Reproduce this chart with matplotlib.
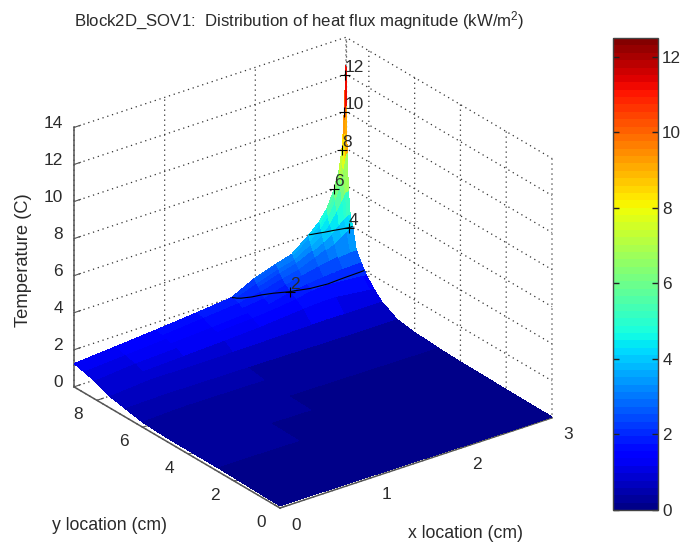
import numpy as np
import matplotlib
matplotlib.use("Agg")
import matplotlib.pyplot as plt
from matplotlib.cm import ScalarMappable
from matplotlib.colors import ListedColormap, Normalize
from mpl_toolkits.mplot3d import proj3d

plt.rcParams['font.family'] = ['Liberation Sans', 'DejaVu Sans']
plt.rcParams['mathtext.default'] = 'regular'
plt.rcParams['mathtext.fontset'] = 'custom'
plt.rcParams['mathtext.rm'] = 'Liberation Sans'

x_cm = [0, .45, .9, 1.35, 1.74, 1.98, 2.22, 2.4, 2.58, 2.7, 2.79, 2.868, 2.925, 2.955, 2.97, 2.982, 2.991, 3]
y_cm = [0, .9, 1.8, 2.7, 3.96, 4.95, 6, 6.75, 7.42, 7.78, 8.1, 8.33, 8.55, 8.71, 8.82, 8.89, 8.95, 8.98, 9]
flux = [
    [.12, .11, .10, .09, .08, .07, .06, .06, .05, .05, .05, .05, .05, .05, .05, .05, .05, .05],
    [.14, .13, .12, .11, .10, .09, .08, .07, .07, .06, .06, .06, .06, .06, .06, .06, .06, .06],
    [.17, .16, .14, .13, .11, .10, .09, .08, .08, .07, .07, .07, .07, .07, .07, .07, .07, .07],
    [.20, .19, .17, .15, .13, .12, .11, .10, .09, .09, .09, .09, .09, .09, .09, .09, .09, .09],
    [.20, .23, .21, .18, .16, .15, .14, .13, .12, .12, .11, .11, .11, .11, .11, .11, .11, .11],
    [.20, .27, .25, .23, .21, .20, .19, .18, .17, .17, .16, .16, .16, .16, .16, .16, .16, .16],
    [.27, .36, .34, .32, .30, .28, .27, .26, .25, .25, .25, .25, .25, .25, .25, .25, .25, .25],
    [.45, .50, .48, .46, .44, .42, .41, .40, .39, .39, .39, .39, .39, .39, .39, .39, .39, .39],
    [.62, .80, .78, .80, .82, .84, .86, .88, .86, .85, .85, .85, .85, .85, .85, .85, .85, .85],
    [.80, .95, 1.05, 1.15, 1.25, 1.35, 1.45, 1.52, 1.52, 1.45, 1.40, 1.35, 1.32, 1.30, 1.30, 1.30, 1.30, 1.30],
    [.95, 1.15, 1.25, 1.38, 1.50, 1.60, 1.75, 1.93, 1.97, 1.92, 1.88, 1.85, 1.83, 1.82, 1.81, 1.80, 1.80, 1.80],
    [1.05, 1.20, 1.33, 1.48, 1.60, 1.70, 1.97, 2.10, 2.20, 2.25, 2.28, 2.30, 2.30, 2.30, 2.30, 2.30, 2.30, 2.30],
    [1.12, 1.27, 1.42, 1.58, 1.72, 1.85, 2.20, 2.40, 2.60, 2.70, 2.78, 2.82, 2.85, 2.85, 2.85, 2.85, 2.85, 2.85],
    [1.18, 1.33, 1.50, 1.70, 1.87, 2.08, 2.40, 2.60, 2.95, 3.20, 3.40, 3.65, 3.85, 3.95, 4.00, 4.00, 4.00, 4.00],
    [1.21, 1.36, 1.54, 1.74, 1.92, 2.25, 2.62, 2.85, 3.25, 3.55, 3.85, 4.20, 4.45, 4.55, 4.60, 4.60, 4.60, 4.60],
    [1.23, 1.38, 1.56, 1.76, 1.95, 2.38, 2.78, 3.00, 3.50, 3.90, 4.35, 4.95, 5.40, 5.70, 5.80, 5.80, 5.80, 5.80],
    [1.24, 1.40, 1.58, 1.78, 1.97, 2.48, 2.88, 3.12, 3.70, 4.20, 4.75, 5.50, 6.30, 7.00, 7.40, 7.70, 7.80, 7.80],
    [1.25, 1.41, 1.59, 1.79, 1.99, 2.55, 2.95, 3.20, 3.85, 4.40, 5.00, 5.85, 6.80, 7.70, 8.60, 9.60, 10.2, 10.5],
    [1.25, 1.42, 1.60, 1.80, 2.00, 2.60, 3.00, 3.25, 3.95, 4.50, 5.10, 6.00, 7.00, 8.00, 9.00, 10.2, 11.4, 12.5],
]
contour_levels = [2, 4]
label_x = [2.22, 2.96, 2.87, 2.955, 2.98, 2.99]
label_y = [8.36, 8.71, 9, 9, 9, 9]
label_z = [2, 4, 6, 8, 10, 12]
label_text = ['2', '4', '6', '8', '10', '12']
x_ticks = [0, 1, 2, 3]
y_ticks = [0, 2, 4, 6, 8]
z_ticks = [0, 2, 4, 6, 8, 10, 12, 14]
cbar_ticks = [0, 2, 4, 6, 8, 10, 12]

TXT = '#2a2a2a'
FS = 12.4
W, H = 683, 543
fig = plt.figure(figsize=(W / 100, H / 100), dpi=100)
ax = fig.add_axes([0.05, 0.05, 0.8, 0.8], projection='3d', computed_zorder=False)
ax.set_proj_type('ortho')
ax.view_init(elev=26.2, azim=-126.9)
ax.set_box_aspect((340, 343, 289))

X, Y = np.meshgrid(np.array(x_cm), np.array(y_cm))
Z = np.array(flux)
norm = Normalize(0, 12.5)
cmap = ListedColormap(plt.get_cmap('jet')((np.arange(64) + 0.6) / 64))
ax.plot_surface(X, Y, Z, cmap=cmap, norm=norm, rstride=1, cstride=1, linewidth=0,
                antialiased=False, shade=False, zorder=2)
ax.contour(X, Y, Z, levels=contour_levels, colors='k', linewidths=0.8, zorder=3)
ax.plot(label_x, label_y, label_z, ls='none', marker='+', ms=7, mew=0.8, color='k', zorder=4)

# dotted vertical at the back corner of the box
ax.plot([3, 3], [9, 9], [0, 14], ls=(0, (1, 3)), lw=0.9, color='#333333', zorder=1)

ax.set_xlim(0, 3)
ax.set_ylim(0, 9)
ax.set_zlim(0, 14)
ax.set_xticks(x_ticks)
ax.set_yticks(y_ticks)
ax.set_zticks(z_ticks)
ax.set_xticklabels([])
ax.set_yticklabels([])
ax.set_zticklabels([])
for a in (ax.xaxis, ax.yaxis, ax.zaxis):
    a.pane.set_visible(False)
    a.line.set_color('#555555')
    a.line.set_linewidth(1.1)
    a._axinfo['grid'].update(color='#333333', linewidth=0.9, linestyle=(0, (1, 3)))
    a._axinfo['tick'].update(inward_factor=0.0, outward_factor=0.3)
ax.tick_params(axis='both', color='#555555', width=1)


def px(x, y, z):
    xs, ys, _ = proj3d.proj_transform(x, y, z, ax.get_proj())
    return ax.transData.transform((xs, ys))


# fit the orthographic box to the reference's plot box
side = 0.8 * W
cx, cy = 0.45 * W, 0.45 * H
for _ in range(3):
    ax.set_position([(cx - side / 2) / W, (cy - side / 2) / H, side / W, side / H])
    ax.apply_aspect()
    p0, p1 = px(0, 0, 0), px(3, 0, 0)
    side *= 272.0 / (p1[0] - p0[0])
    ax.set_position([(cx - side / 2) / W, (cy - side / 2) / H, side / W, side / H])
    ax.apply_aspect()
    p0 = px(0, 0, 0)
    cx += 280 - p0[0]
    cy += (H - 508) - p0[1]
ax.set_position([(cx - side / 2) / W, (cy - side / 2) / H, side / W, side / H])
ax.apply_aspect()


def label3d(x, y, z, s, **kw):
    p = px(x, y, z)
    fig.text(p[0] / W, p[1] / H, s, fontsize=FS, color=TXT, **kw)


for lx, ly, lz, t in zip(label_x, label_y, label_z, label_text):
    label3d(lx, ly, lz, t, ha='left', va='bottom')
for k in x_ticks:
    label3d(k, -0.7, -0.41, str(k), ha='center', va='center')
for k in y_ticks:
    label3d(-0.21, k, -0.42, str(k), ha='center', va='center')
for k in z_ticks:
    label3d(-0.121, 9, k + 0.41, str(k), ha='right', va='center')

fig.text(299 / W, 1 - 21 / H, 'Block2D_SOV1:  Distribution of heat flux magnitude (kW/m$^2$)',
         ha='center', va='center', fontsize=12.1, color=TXT)
fig.text(109.5 / W, 1 - 526 / H, 'y location (cm)', ha='center', va='center', fontsize=12.7, color=TXT)
fig.text(465 / W, 1 - 533 / H, 'x location (cm)', ha='center', va='center', fontsize=12.7, color=TXT)
fig.text(24 / W, 1 - 260 / H, 'Temperature (C)', rotation=90, ha='center', va='center',
         fontsize=13.2, color=TXT)

cax = fig.add_axes([613 / W, 1 - 510 / H, 45 / W, 472 / H])
cb = fig.colorbar(ScalarMappable(norm=norm, cmap=cmap), cax=cax, ticks=cbar_ticks)
cb.ax.tick_params(direction='in', left=True, right=True, length=4, width=1, color='#222222',
                  labelsize=12.3, labelcolor=TXT, pad=3)
cb.outline.set_edgecolor('#444444')
cb.outline.set_linewidth(1)

fig.savefig('out.png', dpi=100)
